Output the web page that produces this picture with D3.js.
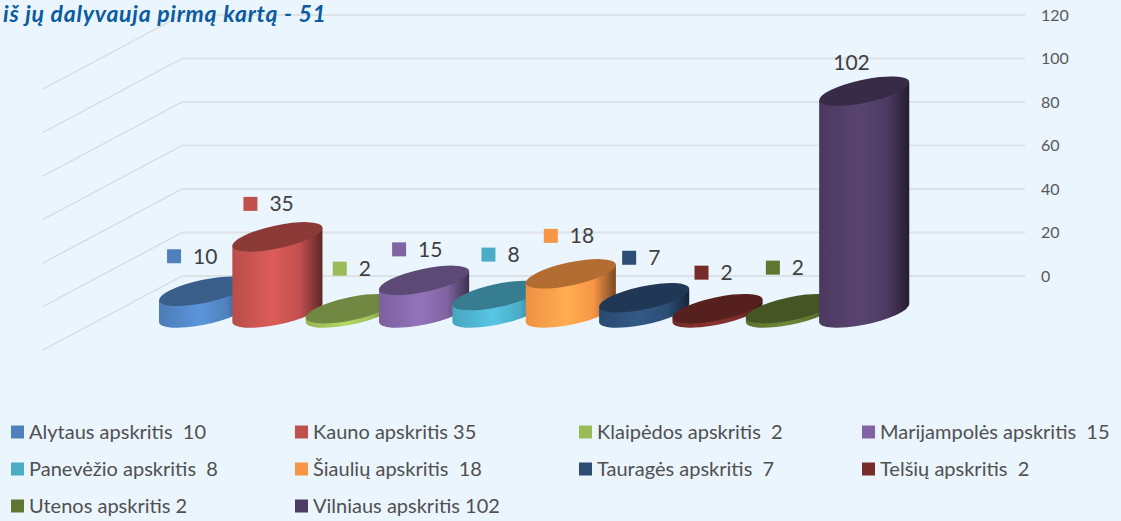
<!DOCTYPE html>
<html>
<head>
<meta charset="utf-8">
<script src="https://cdnjs.cloudflare.com/ajax/libs/d3/7.8.5/d3.min.js"></script>
<style>
  html, body { margin: 0; padding: 0; background: #eaf5fe; overflow: hidden; }
  svg { display: block; font-family: Lato, "Open Sans", sans-serif; }
  text { white-space: pre; }
</style>
</head>
<body>
<svg width="1121" height="521"></svg>
<script>
var counties = ["Alytaus", "Kauno", "Klaipėdos", "Marijampolės", "Panevėžio", "Šiaulių", "Tauragės", "Telšių", "Utenos", "Vilniaus"];
var values = [10, 35, 2, 15, 8, 18, 7, 2, 2, 102];
var colors = ["#4f81bd", "#c0504d", "#9bbb59", "#8064a2", "#4bacc6", "#f79646", "#2c4d75", "#772c2a", "#5f7530", "#4d3b62"];
var legendLabels = ["Alytaus apskritis  10", "Kauno apskritis 35", "Klaipėdos apskritis  2", "Marijampolės apskritis  15", "Panevėžio apskritis  8", "Šiaulių apskritis  18", "Tauragės apskritis  7", "Telšių apskritis  2", "Utenos apskritis 2", "Vilniaus apskritis 102"];
var axisTicks = [0, 20, 40, 60, 80, 100, 120];
var title = "iš jų dalyvauja pirmą kartą - 51";

// labels were dragged by hand in the original, so nudge each one from its bar top
var labelDx = [-30, -27, -11, -25, -9, -20, -15, -16, -18, 0];
var labelDy = [-35, -33, -40, -31, -41, -38, -40, -36, -41, -29];

var svg = d3.select("svg");
var defs = svg.append("defs");

var y = d3.scaleLinear().domain([0, 120]).range([276, 15]);
var x = d3.scaleBand().domain(counties).range([159, 892.5]);

var wallRight = 1025, wallLeft = 182, sideX = 43, sideDrop = 74;
var baseY = 313, rx = 46, ry = 11.5, tilt = -12;

// side wall
svg.append("g").selectAll("line").data(axisTicks).enter().append("line")
  .attr("x1", sideX).attr("y1", function(d){ return y(d) + sideDrop; })
  .attr("x2", wallLeft).attr("y2", function(d){ return y(d); })
  .attr("stroke", "#d9d9d9").attr("stroke-width", 1.3);

// back wall
svg.append("g").selectAll("line").data(axisTicks).enter().append("line")
  .attr("x1", wallLeft).attr("y1", function(d){ return y(d); })
  .attr("x2", wallRight).attr("y2", function(d){ return y(d); })
  .attr("stroke", "#dde2e6").attr("stroke-width", 2);

// value axis
var axis = svg.append("g").attr("transform", "translate(1027,0)")
  .call(d3.axisRight(y).tickValues(axisTicks).tickSize(0).tickPadding(14));
axis.select(".domain").remove();
axis.selectAll("text").attr("font-family", "Lato").attr("font-size", 16).attr("fill", "#595959");

// outermost points of a tilted ellipse, the cylinder walls touch it there
var rad = tilt * Math.PI / 180;
var halfW = Math.sqrt(rx * rx * Math.cos(rad) * Math.cos(rad) + ry * ry * Math.sin(rad) * Math.sin(rad));
var edgeDy = (rx * rx - ry * ry) * Math.sin(rad) * Math.cos(rad) / halfW;

colors.forEach(function(c, i){
  var base = d3.color(c);
  var g = defs.append("linearGradient").attr("id", "bar" + i);
  g.append("stop").attr("offset", "0").attr("stop-color", base.darker(0.1));
  g.append("stop").attr("offset", "0.45").attr("stop-color", base.brighter(0.4));
  g.append("stop").attr("offset", "0.75").attr("stop-color", base);
  g.append("stop").attr("offset", "1").attr("stop-color", base.darker(2));
});

var bars = svg.append("g").selectAll("g").data(values).enter().append("g");

function cx(i){ return x(counties[i]) + halfW; }
function topY(d){ return baseY - (y(0) - y(d)); }

bars.append("path")
  .attr("fill", function(d, i){ return "url(#bar" + i + ")"; })
  .attr("d", function(d, i){
    var c = cx(i), t = topY(d);
    return "M" + (c - halfW) + "," + (t - edgeDy) +
      "L" + (c - halfW) + "," + (baseY - edgeDy) +
      "A" + rx + "," + ry + " " + tilt + " 0 0 " + (c + halfW) + "," + (baseY + edgeDy) +
      "L" + (c + halfW) + "," + (t + edgeDy) + "Z";
  });

bars.append("ellipse")
  .attr("rx", rx).attr("ry", ry)
  .attr("transform", function(d, i){ return "translate(" + cx(i) + "," + topY(d) + ") rotate(" + tilt + ")"; })
  .attr("fill", function(d, i){ return d3.color(colors[i]).darker(0.9); });

// data labels
var labels = svg.append("g").selectAll("g").data(values).enter().append("g")
  .attr("transform", function(d, i){ return "translate(" + (cx(i) + labelDx[i]) + "," + (topY(d) + labelDy[i]) + ")"; });

labels.filter(function(d){ return d < 100; }).append("rect")
  .attr("x", -7).attr("y", -7).attr("width", 14).attr("height", 14)
  .attr("fill", function(d, i){ return colors[i]; });

labels.append("text")
  .attr("x", function(d){ return d < 100 ? 19 : -31; })
  .attr("dy", "0.36em")
  .attr("font-size", 21)
  .attr("fill", "#404040")
  .text(function(d){ return d; });

// legend
var legendX = [11, 295, 579, 862];
var legendY = [432, 469, 506];
var legend = svg.append("g").selectAll("g").data(legendLabels).enter().append("g")
  .attr("transform", function(d, i){ return "translate(" + legendX[i % 4] + "," + legendY[Math.floor(i / 4)] + ")"; });

legend.append("rect")
  .attr("x", 0).attr("y", -6.5).attr("width", 13).attr("height", 13)
  .attr("fill", function(d, i){ return colors[i]; });

legend.append("text")
  .attr("x", 18).attr("dy", "0.36em")
  .attr("font-size", 20)
  .attr("fill", "#505050")
  .text(function(d){ return d; });

svg.append("text")
  .attr("x", 3).attr("y", 22)
  .attr("font-size", 23)
  .attr("font-weight", 700)
  .attr("font-style", "italic")
  .attr("letter-spacing", 0.75)
  .attr("fill", "#0b5c9e")
  .text(title);
</script>
</body>
</html>
